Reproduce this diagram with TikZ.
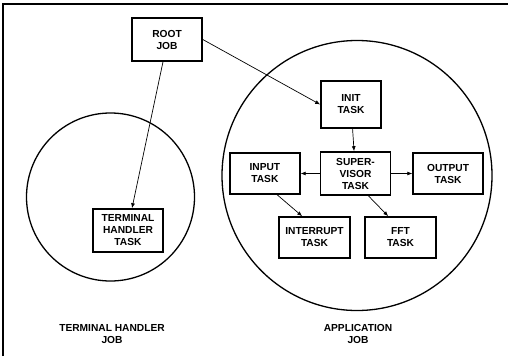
\documentclass[tikz,border=0pt]{standalone}
\usepackage{fontspec}
\setsansfont{Liberation Sans}
\usepackage{tikz}
\usetikzlibrary{arrows.meta,positioning}

\begin{document}
\begin{tikzpicture}[
  x=1pt, y=-1pt,
  node distance=19pt and 19pt,
  taskbox/.style={draw, line width=1.6pt, minimum width=70pt, minimum height=43pt,
    align=center, inner sep=2pt, font=\sffamily\bfseries\fontsize{10.2}{12}\selectfont},
  jobcircle/.style={draw, circle, line width=1.3pt, inner sep=0pt},
  joblabel/.style={align=center, font=\sffamily\bfseries\fontsize{10.2}{12.5}\selectfont},
  arrow/.style={-{Latex[length=5pt,width=4pt]}, line width=0.7pt},
  frame/.style={line width=2pt}
]
\useasboundingbox (0,0) rectangle (508,356);
\draw[frame] (3,356) -- (3,4) -- (508,4);

% the two jobs
\node[jobcircle, minimum size=168pt] (termjob) at (110.5,197) {};
\node[jobcircle, minimum size=270pt] (appjob) at (357,175.5) {};
\node[joblabel] (termlabel) at (112,334) {TERMINAL HANDLER\\JOB};
\node[joblabel] (applabel) at (358,334) {APPLICATION\\JOB};

% tasks
\node[taskbox] (root) at (167,39.5) {ROOT\\JOB};
\node[taskbox] (term) at (128,230.5) {TERMINAL\\HANDLER\\TASK};
\node[taskbox, minimum width=60pt, minimum height=47pt] (init) at (351,104.5) {INIT\\TASK};
\node[taskbox] (super) at (355.5,173.5) {SUPER-\\VISOR\\TASK};
\node[taskbox, minimum height=41pt, left=of super] (input) {INPUT\\TASK};
\node[taskbox, minimum height=41pt, right=21pt of super] (output) {OUTPUT\\TASK};
\node[taskbox, minimum width=71pt, minimum height=41pt] (interrupt) at (314.5,237.5) {INTERRUPT\\TASK};
\node[taskbox, minimum width=71pt, minimum height=41pt] (fft) at (400.5,237.5) {FFT\\TASK};

\draw[arrow] (root.east) -- (init.west);
\draw[arrow] ([xshift=-4pt]root.south) -- ([xshift=4pt]term.north);
\draw[arrow] (init) -- (super);
\draw[arrow] (super) -- (input);
\draw[arrow] (super) -- (output);
\draw[arrow] (input.-60) -- (interrupt.120);
\draw[arrow] (super.-60) -- (fft.120);
\end{tikzpicture}
\end{document}
